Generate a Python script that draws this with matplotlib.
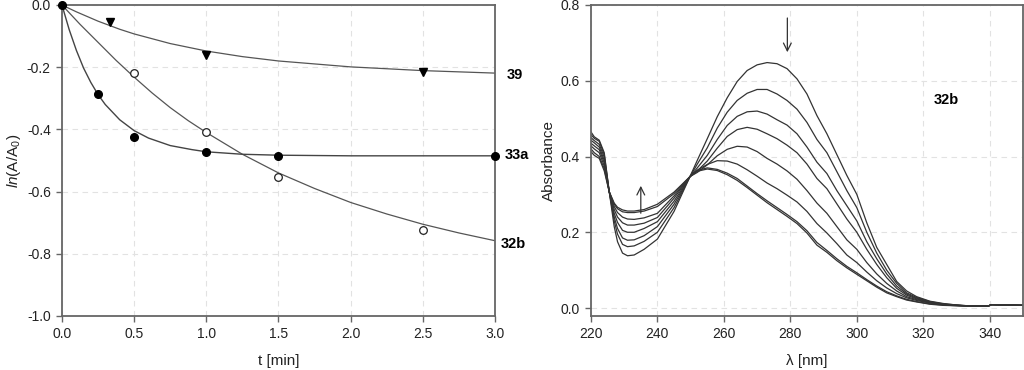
import numpy as np
import matplotlib.pyplot as plt

plt.rcParams['font.family'] = ['Liberation Sans', 'DejaVu Sans']
plt.rcParams['mathtext.fontset'] = 'custom'
plt.rcParams['mathtext.rm'] = 'Liberation Sans'
plt.rcParams['mathtext.it'] = 'Liberation Sans:italic'
plt.rcParams['axes.unicode_minus'] = False

# ---- kinetics (left panel) ----
t_39 = [0, 0.33, 1.0, 2.5]
y_39 = [0, -0.056, -0.16, -0.215]
t_33a = [0, 0.25, 0.5, 1.0, 1.5, 3.0]
y_33a = [0, -0.287, -0.425, -0.474, -0.485, -0.484]
t_32b = [0, 0.5, 1.0, 1.5, 2.5]
y_32b = [0, -0.218, -0.408, -0.552, -0.722]

# fitted curves
tf_39 = [0, 0.1, 0.25, 0.4, 0.5, 0.75, 1.0, 1.25, 1.5, 2.0, 2.5, 3.0]
yf_39 = [0, -0.022, -0.052, -0.078, -0.093, -0.124, -0.148, -0.166, -0.18, -0.199, -0.211, -0.219]
tf_33a = [0, 0.05, 0.1, 0.15, 0.2, 0.25, 0.3, 0.4, 0.5, 0.6, 0.75, 0.9, 1.0, 1.25, 1.5, 2.0, 2.5, 3.0]
yf_33a = [0, -0.079, -0.146, -0.203, -0.249, -0.288, -0.320, -0.369, -0.404, -0.428,
          -0.452, -0.465, -0.472, -0.48, -0.483, -0.485, -0.485, -0.485]
tf_32b = [0, 0.125, 0.25, 0.375, 0.5, 0.625, 0.75, 0.875, 1.0, 1.25, 1.5, 1.75, 2.0, 2.25, 2.5, 2.75, 3.0]
yf_32b = [0, -0.062, -0.12, -0.178, -0.232, -0.283, -0.33, -0.372, -0.41, -0.48, -0.54, -0.59,
          -0.635, -0.672, -0.705, -0.733, -0.758]

# ---- spectra (right panel) ----
wl = [220, 221, 222.5, 224, 225.5, 227, 228, 229.5, 231, 233, 236, 240, 245, 249.8,
      252, 255, 258, 261, 264, 267, 270, 273, 276, 279, 282, 285, 288, 291, 294, 297,
      300, 303, 306, 309, 312, 315, 318, 322, 326, 330, 335, 339.5, 340.5, 345, 350]

c1 = [0.465, 0.452, 0.443, 0.41, 0.307, 0.215, 0.175, 0.145, 0.138, 0.14, 0.155, 0.182, 0.255, 0.347,
      0.39, 0.447, 0.505, 0.555, 0.598, 0.627, 0.642, 0.648, 0.645, 0.632, 0.605, 0.565, 0.508, 0.46, 0.405, 0.35,
      0.30, 0.225, 0.16, 0.115, 0.07, 0.045, 0.03, 0.018, 0.012, 0.008, 0.005, 0.005, 0.009, 0.008, 0.007]
c2 = [0.458, 0.448, 0.44, 0.405, 0.307, 0.23, 0.195, 0.168, 0.162, 0.164, 0.176, 0.2, 0.265, 0.347,
      0.38, 0.423, 0.475, 0.517, 0.548, 0.567, 0.577, 0.577, 0.565, 0.548, 0.525, 0.49, 0.445, 0.41, 0.36, 0.31,
      0.265, 0.2, 0.145, 0.1, 0.065, 0.04, 0.028, 0.017, 0.011, 0.008, 0.005, 0.005, 0.009, 0.008, 0.007]
c3 = [0.45, 0.442, 0.432, 0.398, 0.307, 0.24, 0.21, 0.185, 0.179, 0.18, 0.191, 0.215, 0.274, 0.347,
      0.37, 0.403, 0.445, 0.482, 0.506, 0.518, 0.52, 0.512, 0.497, 0.483, 0.46, 0.425, 0.385, 0.355, 0.31, 0.27,
      0.23, 0.175, 0.13, 0.09, 0.058, 0.037, 0.026, 0.016, 0.010, 0.007, 0.005, 0.005, 0.009, 0.008, 0.007]
c4 = [0.443, 0.436, 0.425, 0.39, 0.307, 0.25, 0.226, 0.205, 0.2, 0.2, 0.21, 0.228, 0.282, 0.347,
      0.362, 0.388, 0.422, 0.453, 0.471, 0.477, 0.472, 0.46, 0.447, 0.43, 0.41, 0.38, 0.342, 0.315, 0.275, 0.235,
      0.2, 0.155, 0.115, 0.08, 0.052, 0.034, 0.024, 0.015, 0.010, 0.007, 0.005, 0.005, 0.009, 0.008, 0.007]
c5 = [0.435, 0.428, 0.418, 0.383, 0.307, 0.26, 0.24, 0.225, 0.219, 0.219, 0.224, 0.239, 0.29, 0.347,
      0.358, 0.378, 0.402, 0.419, 0.427, 0.425, 0.413, 0.395, 0.38, 0.362, 0.34, 0.31, 0.277, 0.25, 0.215, 0.18,
      0.155, 0.12, 0.09, 0.065, 0.045, 0.03, 0.022, 0.014, 0.009, 0.007, 0.005, 0.005, 0.009, 0.008, 0.007]
c6 = [0.428, 0.42, 0.41, 0.375, 0.307, 0.268, 0.252, 0.24, 0.235, 0.234, 0.238, 0.25, 0.296, 0.347,
      0.364, 0.379, 0.389, 0.388, 0.38, 0.365, 0.348, 0.33, 0.315, 0.298, 0.28, 0.255, 0.223, 0.198, 0.17, 0.14,
      0.12, 0.095, 0.072, 0.053, 0.038, 0.027, 0.02, 0.013, 0.009, 0.007, 0.005, 0.005, 0.009, 0.008, 0.007]
c7 = [0.42, 0.41, 0.4, 0.368, 0.307, 0.274, 0.262, 0.254, 0.252, 0.252, 0.256, 0.268, 0.302, 0.347,
      0.363, 0.37, 0.366, 0.356, 0.342, 0.322, 0.302, 0.283, 0.265, 0.247, 0.228, 0.204, 0.173, 0.152, 0.13, 0.11,
      0.093, 0.075, 0.058, 0.043, 0.032, 0.023, 0.017, 0.011, 0.008, 0.006, 0.005, 0.005, 0.009, 0.008, 0.007]
c8 = [0.413, 0.403, 0.395, 0.362, 0.307, 0.277, 0.266, 0.259, 0.256, 0.256, 0.26, 0.274, 0.306, 0.347,
      0.361, 0.367, 0.363, 0.352, 0.337, 0.318, 0.298, 0.278, 0.26, 0.242, 0.223, 0.198, 0.166, 0.147, 0.125, 0.106,
      0.089, 0.072, 0.055, 0.04, 0.03, 0.021, 0.016, 0.01, 0.007, 0.006, 0.005, 0.005, 0.009, 0.008, 0.007]
spectra = [c1, c2, c3, c4, c5, c6, c7, c8]

fig = plt.figure(figsize=(10.24, 3.7), dpi=100)
ax1 = fig.add_axes([0.0605, 0.146, 0.4229, 0.8405])
ax2 = fig.add_axes([0.5771, 0.146, 0.4219, 0.8405])

spine_c = '#666666'
for ax in (ax1, ax2):
    for s in ax.spines.values():
        s.set_color(spine_c)
        s.set_linewidth(1.3)
    ax.tick_params(direction='out', length=4, width=1, color=spine_c,
                   labelsize=10, labelcolor='#222222', pad=4)
    ax.grid(True, color='#e2e2e2', linestyle=(0, (5, 4)), linewidth=0.8)
    ax.set_axisbelow(True)

# left panel
ax1.plot(tf_39, yf_39, color='#555555', lw=0.9)
ax1.plot(tf_32b, yf_32b, color='#555555', lw=0.9)
ax1.plot(tf_33a, yf_33a, color='#444444', lw=1.0)
ax1.plot(t_39, y_39, 'v', color='black', ms=5.5, ls='none')
ax1.plot(t_32b, y_32b, 'o', mfc='white', mec='#222222', mew=0.9, ms=5.5, ls='none')
ax1.plot(t_33a, y_33a, 'o', color='black', ms=5.5, ls='none', clip_on=False, zorder=5)
ax1.set_xlim(0, 3.0)
ax1.set_ylim(-1.0, 0.0)
ax1.set_xticks(np.arange(0, 3.01, 0.5))
ax1.set_yticks(np.arange(-1.0, 0.01, 0.2))
ax1.set_xlabel('t [min]', fontsize=11, color='#222222', labelpad=9)
ax1.set_ylabel(r'$\mathit{ln}$(A/A$_0$)', fontsize=11, color='#222222', labelpad=3)
for lbl, yy, xx in [('39', -0.226, 3.08), ('33a', -0.483, 3.065), ('32b', -0.769, 3.04)]:
    ax1.text(xx, yy, lbl, fontsize=10.5, fontweight='bold', va='center', ha='left', clip_on=False)

# right panel
for c in spectra:
    ax2.plot(wl, c, color='#333333', lw=0.9)
ax2.set_xlim(220, 350)
ax2.set_ylim(-0.021, 0.8)
ax2.set_xticks(np.arange(220, 341, 20))
ax2.set_yticks(np.arange(0, 0.81, 0.2))
ax2.set_xlabel(r'λ [nm]', fontsize=11, color='#222222', labelpad=9)
ax2.set_ylabel('Absorbance', fontsize=11, color='#222222', labelpad=3)
ax2.text(323.2, 0.549, '32b', fontsize=10.5, fontweight='bold', va='center', ha='left')
ax2.annotate('', xy=(279.1, 0.668), xytext=(279.1, 0.773),
             arrowprops=dict(arrowstyle='->', color='#333333', lw=0.9, mutation_scale=14))
ax2.annotate('', xy=(235.0, 0.33), xytext=(235.0, 0.243),
             arrowprops=dict(arrowstyle='->', color='#333333', lw=0.9, mutation_scale=14))

fig.savefig('out.png', dpi=100)
